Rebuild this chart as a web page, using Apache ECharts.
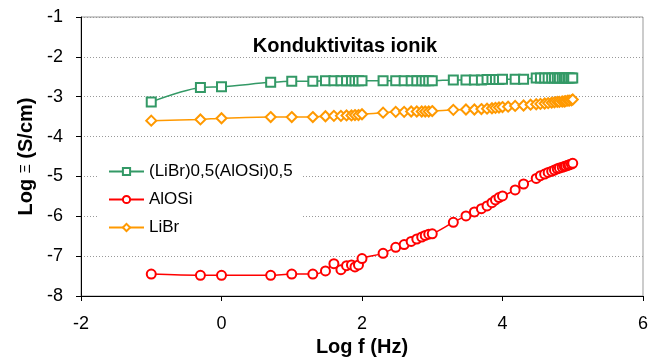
<!DOCTYPE html>
<html>
<head>
    <meta charset="utf-8">
    <title>Konduktivitas ionik</title>
    <script src="https://cdn.jsdelivr.net/npm/echarts@6/dist/echarts.min.js"></script>
    <style>
        html, body { margin: 0; padding: 0; background: #fff; }
        #chart1 { width: 656px; height: 360px; }
    </style>
</head>
<body>
<div id="chart1"></div>
<script>
    // log f (Hz)
    var logF = [-1, -0.3, 0, 0.7, 1, 1.3, 1.48, 1.6, 1.7, 1.78, 1.85, 1.9, 1.95, 2,
        2.3, 2.48, 2.6, 2.7, 2.78, 2.85, 2.9, 2.95, 3, 3.3, 3.48, 3.6, 3.7, 3.78, 3.85, 3.9, 3.95, 4,
        4.18, 4.3, 4.48, 4.54, 4.6, 4.65, 4.7, 4.74, 4.78, 4.81, 4.85, 4.88, 4.9, 4.93, 4.95, 4.98, 5];
    var logFLiBr = [-1, -0.3, 0, 0.7, 1, 1.3, 1.48, 1.6, 1.7, 1.78, 1.85, 1.9, 1.95, 2,
        2.3, 2.48, 2.6, 2.7, 2.78, 2.85, 2.9, 2.95, 3, 3.3, 3.48, 3.6, 3.7, 3.78, 3.85, 3.9, 3.95, 4,
        4.08, 4.18, 4.3, 4.4, 4.48, 4.54, 4.6, 4.65, 4.7, 4.74, 4.78, 4.81, 4.85, 4.88, 4.9, 4.93, 4.95, 4.98, 5];

    // log sigma (S/cm)
    var campuran = [-3.13, -2.77, -2.75, -2.64, -2.61, -2.61, -2.60, -2.60, -2.60, -2.60, -2.60, -2.60, -2.60, -2.60,
        -2.60, -2.60, -2.60, -2.60, -2.60, -2.60, -2.60, -2.60, -2.60, -2.58, -2.58, -2.58, -2.58, -2.57, -2.57, -2.57, -2.57, -2.56,
        -2.56, -2.56, -2.53, -2.53, -2.53, -2.53, -2.53, -2.53, -2.53, -2.53, -2.53, -2.53, -2.53, -2.53, -2.53, -2.53, -2.53];
    var alosi = [-7.45, -7.48, -7.48, -7.48, -7.45, -7.45, -7.37, -7.19, -7.34, -7.24, -7.22, -7.27, -7.22, -7.06,
        -6.93, -6.78, -6.71, -6.63, -6.57, -6.52, -6.48, -6.45, -6.44, -6.15, -5.99, -5.89, -5.81, -5.74, -5.66, -5.59, -5.53, -5.49,
        -5.34, -5.19, -5.05, -4.98, -4.94, -4.90, -4.87, -4.84, -4.81, -4.79, -4.77, -4.75, -4.74, -4.72, -4.71, -4.69, -4.67];
    var libr = [-3.60, -3.57, -3.54, -3.51, -3.51, -3.51, -3.49, -3.48, -3.48, -3.47, -3.47, -3.46, -3.46, -3.44,
        -3.40, -3.38, -3.38, -3.37, -3.37, -3.37, -3.37, -3.37, -3.36, -3.33, -3.32, -3.32, -3.31, -3.30, -3.29, -3.28, -3.27, -3.26,
        -3.25, -3.23, -3.22, -3.20, -3.19, -3.18, -3.17, -3.16, -3.15, -3.14, -3.13, -3.13, -3.12, -3.12, -3.11, -3.10, -3.10, -3.09, -3.07];

    var namaSeri = ['(LiBr)0,5(AlOSi)0,5', 'AlOSi', 'LiBr'];

    function pasangan(xs, ys) {
        var out = [];
        for (var i = 0; i < xs.length; i++) out.push([xs[i], ys[i]]);
        return out;
    }

    var font = 'Liberation Sans, Arial, sans-serif';
    var myChart1 = echarts.init(document.getElementById('chart1'));
    myChart1.setOption({
        animation: false,
        title: {
            text: 'Konduktivitas ionik',
            left: 340,
            textAlign: 'center',
            top: 31,
            textStyle: { fontFamily: font, fontSize: 20, fontWeight: 'bold', color: '#000' }
        },
        legend: {
            data: namaSeri,
            orient: 'vertical',
            left: 98,
            top: 155,
            padding: [8, 10, 8, 10],
            itemGap: 11,
            itemWidth: 35,
            itemHeight: 9,
            backgroundColor: '#fff',
            textStyle: { fontFamily: font, fontSize: 17, color: '#000' }
        },
        grid: {
            left: 81, right: 13, top: 17, bottom: 64,
            outerBoundsMode: 'none',
            show: true, borderColor: '#999', borderWidth: 1
        },
        xAxis: {
            type: 'value',
            min: -2, max: 6, interval: 2,
            name: 'Log f (Hz)',
            nameLocation: 'middle',
            nameGap: 41,
            nameTextStyle: { fontFamily: font, fontSize: 20, fontWeight: 'bold', color: '#000' },
            axisLine: { onZero: false, lineStyle: { color: '#000', width: 1 } },
            axisTick: { length: 5, lineStyle: { color: '#000' } },
            axisLabel: { margin: 19, fontFamily: font, fontSize: 18, color: '#000' },
            splitLine: { show: false }
        },
        yAxis: {
            type: 'value',
            min: -8, max: -1, interval: 1,
            name: 'Log {s|Ξ} (S/cm)',
            nameLocation: 'middle',
            nameGap: 45,
            nameTextStyle: {
                fontFamily: font, fontSize: 20, fontWeight: 'bold', color: '#000',
                rich: { s: { fontFamily: font, fontSize: 14, fontWeight: 'normal', color: '#000' } }
            },
            axisLine: { onZero: false, lineStyle: { color: '#000', width: 1 } },
            axisTick: { length: 5, lineStyle: { color: '#000' } },
            axisLabel: { margin: 18, fontFamily: font, fontSize: 18, color: '#000' },
            splitLine: { lineStyle: { color: '#999', type: [1, 2] } }
        },
        series: [{
            name: namaSeri[0],
            type: 'line',
            smooth: 0.3,
            symbol: 'emptyRect',
            symbolSize: 9,
            itemStyle: { color: '#339966', borderWidth: 1.5 },
            lineStyle: { color: '#339966', width: 1.5 },
            data: pasangan(logF, campuran)
        }, {
            name: namaSeri[1],
            type: 'line',
            smooth: 0.3,
            symbol: 'emptyCircle',
            symbolSize: 9,
            itemStyle: { color: '#ff0000', borderWidth: 1.5 },
            lineStyle: { color: '#ff0000', width: 1.5 },
            data: pasangan(logF, alosi)
        }, {
            name: namaSeri[2],
            type: 'line',
            smooth: 0.3,
            symbol: 'emptyDiamond',
            symbolSize: 10,
            itemStyle: { color: '#ff9900', borderWidth: 1.5 },
            lineStyle: { color: '#ff9900', width: 1.5 },
            data: pasangan(logFLiBr, libr)
        }]
    });
</script>
</body>
</html>
